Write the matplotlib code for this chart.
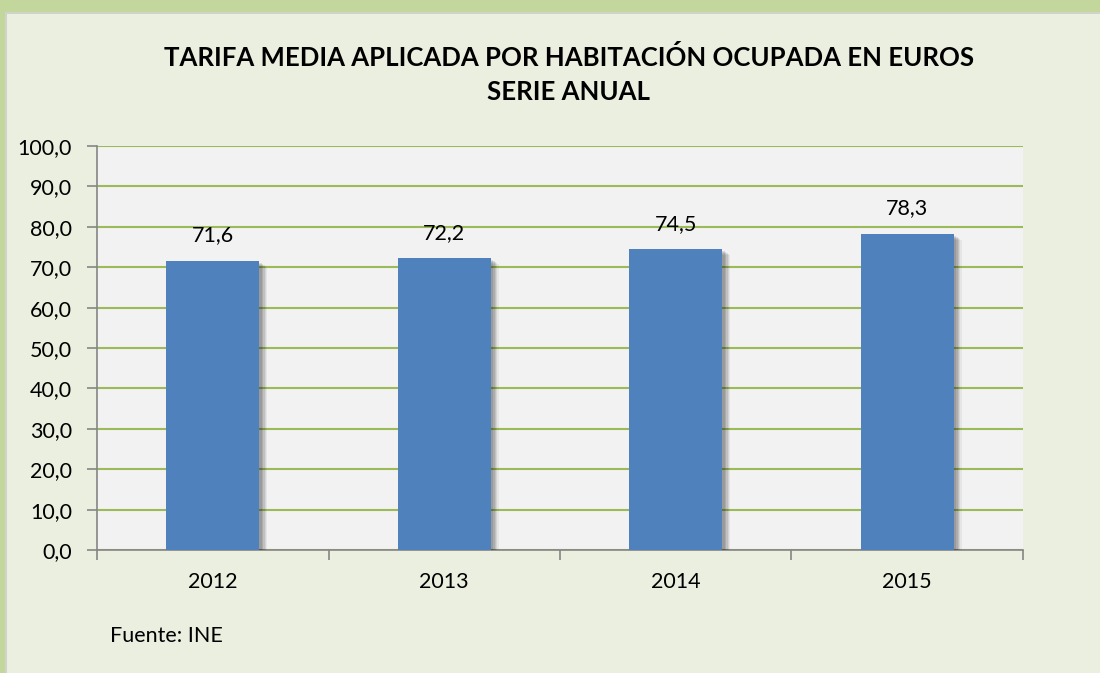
import matplotlib
matplotlib.use("Agg")
import matplotlib.pyplot as plt
import matplotlib.patheffects as pe
from matplotlib.patches import Rectangle
import numpy as np

years = ["2012", "2013", "2014", "2015"]
values = [71.6, 72.2, 74.5, 78.3]
yticks = [0, 10, 20, 30, 40, 50, 60, 70, 80, 90, 100]
title = "TARIFA MEDIA APLICADA POR HABITACIÓN OCUPADA EN EUROS\nSERIE ANUAL"
source = "Fuente: INE"

plt.rcParams['font.family'] = ['Lato', 'DejaVu Sans']

fig = plt.figure(figsize=(11, 6.73), dpi=100)
fig.patch.set_facecolor("#ebefdf")

# outer frame bands
fig.add_artist(Rectangle((0, 1 - 12/673), 1, 12/673, transform=fig.transFigure,
                         facecolor="#c3d69b", edgecolor="none", zorder=0))
fig.add_artist(Rectangle((0, 1 - 14/673), 1, 2/673, transform=fig.transFigure,
                         facecolor="#d0d4c8", edgecolor="none", zorder=0))
fig.add_artist(Rectangle((0, 0), 5/1100, 1, transform=fig.transFigure,
                         facecolor="#c3d69b", edgecolor="none", zorder=0))
fig.add_artist(Rectangle((5/1100, 0), 2/1100, 1 - 12/673, transform=fig.transFigure,
                         facecolor="#d0d4c8", edgecolor="none", zorder=0))

ax = fig.add_axes([97/1100, 1 - 550/673, (1023 - 97)/1100, (550 - 146)/673])
ax.set_facecolor("#f2f2f2")

x = np.arange(len(years))
shadow = [pe.SimplePatchShadow(offset=(o, -o*0.7), shadow_rgbFace="#000000", alpha=a)
          for o, a in [(6, 0.05), (5, 0.07), (4, 0.09), (3, 0.1), (2, 0.1)]]
bars = ax.bar(x, values, width=0.4, color="#4f81bd", zorder=3,
              path_effects=shadow + [pe.Normal()])

ax.set_xlim(-0.5, len(years) - 0.5)
ax.set_ylim(0, 100)
ax.set_yticks(yticks)
ax.set_yticklabels([f"{v:.1f}".replace(".", ",") for v in yticks], fontsize=15.5)
ax.yaxis.grid(True, color="#9bbb59", linewidth=1.5, zorder=1)
ax.set_axisbelow(True)

ax.set_xticks(x)
ax.set_xticklabels(years, fontsize=15.5)
ax.set_xticks(np.arange(-0.5, len(years)), minor=True)
ax.tick_params(axis="x", which="major", length=0, pad=16)
ax.tick_params(axis="x", which="minor", length=7, color="#868686", width=1.2)
ax.tick_params(axis="y", length=7, color="#868686", width=1.2, pad=11)

for s in ["top", "right"]:
    ax.spines[s].set_visible(False)
for s in ["left", "bottom"]:
    ax.spines[s].set_color("#868686")
    ax.spines[s].set_linewidth(1.2)

for xi, v in zip(x, values):
    ax.annotate(f"{v:.1f}".replace(".", ","), (xi, v), xytext=(0, 11),
                textcoords="offset points", ha="center", va="bottom", fontsize=15.5)

fig.text(0.517, 1 - 74.5/673, title, ha="center", va="center", fontsize=18.5,
         fontweight="bold", linespacing=1.45)
fig.text(110/1100, 1 - 636/673, source, ha="left", va="center", fontsize=15.5)

fig.savefig("out.png", dpi=100, facecolor=fig.get_facecolor())
